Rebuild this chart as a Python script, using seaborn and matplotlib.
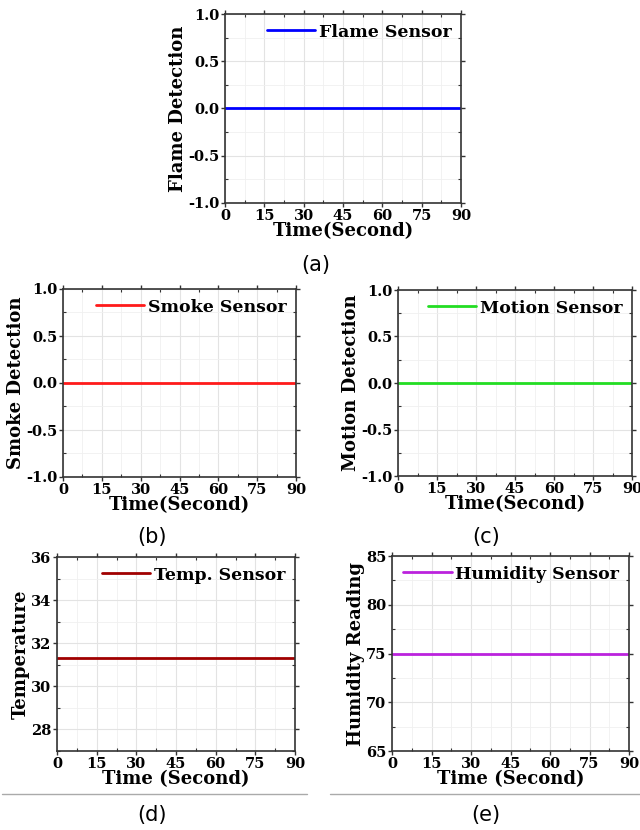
import numpy as np
import pandas as pd
import seaborn as sns
import matplotlib.pyplot as plt
from matplotlib.ticker import MultipleLocator
from matplotlib.lines import Line2D

sns.set_theme(style="white")
plt.rcParams['font.family'] = ['DejaVu Serif']
plt.rcParams['text.color'] = 'black'
plt.rcParams['axes.labelcolor'] = 'black'
plt.rcParams['xtick.color'] = 'black'
plt.rcParams['ytick.color'] = 'black'

time = [0, 90]
flame = [0.0, 0.0]
smoke = [0.0, 0.0]
motion = [0.0, 0.0]
temperature = [31.3, 31.3]
humidity = [75.0, 75.0]

W, H = 640, 830
fig = plt.figure(figsize=(6.4, 8.3), dpi=100)

def rect(l, r, t, b):
    return [l / W, 1 - b / H, (r - l) / W, (b - t) / H]

panels = [
    dict(r=rect(225, 461, 14, 203), y=flame, color='#0000ff', label='Flame Sensor',
         ylabel='Flame Detection', xlabel='Time(Second)', ylim=(-1, 1), ymaj=0.5, ymin=0.25,
         cap='(a)', capxy=(316, 265), fmt='%.1f'),
    dict(r=rect(63, 296, 289, 477), y=smoke, color='#ff1a1a', label='Smoke Sensor',
         ylabel='Smoke Detection', xlabel='Time(Second)', ylim=(-1, 1), ymaj=0.5, ymin=0.25,
         cap='(b)', capxy=(152, 537), fmt='%.1f'),
    dict(r=rect(398, 632, 290, 476), y=motion, color='#22dd22', label='Motion Sensor',
         ylabel='Motion Detection', xlabel='Time(Second)', ylim=(-1, 1), ymaj=0.5, ymin=0.25,
         cap='(c)', capxy=(486, 537), fmt='%.1f'),
    dict(r=rect(57, 295, 557, 751), y=temperature, color='#a00000', label='Temp. Sensor',
         ylabel='Temperature', xlabel='Time (Second)', ylim=(27, 36), ymaj=2, ymin=1,
         cap='(d)', capxy=(152, 815), fmt='%d', yticks=[28, 30, 32, 34, 36]),
    dict(r=rect(392, 629, 556, 751), y=humidity, color='#bb22dd', label='Humidity Sensor',
         ylabel='Humidity Reading', xlabel='Time (Second)', ylim=(65, 85), ymaj=5, ymin=2.5,
         cap='(e)', capxy=(486, 815), fmt='%d'),
]

for p in panels:
    ax = fig.add_axes(p['r'])
    df = pd.DataFrame({'Time': time, 'Value': p['y']})
    sns.lineplot(data=df, x='Time', y='Value', ax=ax, color=p['color'], linewidth=2,
                 label=p['label'])
    ax.set_xlim(0, 90)
    ax.set_ylim(*p['ylim'])
    ax.xaxis.set_major_locator(MultipleLocator(15))
    ax.xaxis.set_minor_locator(MultipleLocator(7.5))
    if 'yticks' in p:
        ax.set_yticks(p['yticks'])
    else:
        ax.yaxis.set_major_locator(MultipleLocator(p['ymaj']))
    ax.yaxis.set_minor_locator(MultipleLocator(p['ymin']))
    ax.yaxis.set_major_formatter(plt.FormatStrFormatter(p['fmt']))
    ax.grid(True, which='major', color='#e3e3e3', linewidth=0.8)
    ax.grid(True, which='minor', color='#f0f0f0', linewidth=0.6)
    for s in ax.spines.values():
        s.set_color('#333333')
        s.set_linewidth(1.2)
    ax.tick_params(axis='both', which='major', direction='out', length=3, width=1,
                   labelsize=10.5, pad=1, color='#333333', labelcolor='black',
                   top=True, right=True, bottom=True, left=True)
    ax.tick_params(axis='both', which='minor', direction='in', length=2, width=0.8,
                   color='#333333', top=True, right=True, bottom=True, left=True)
    for lab in ax.get_xticklabels() + ax.get_yticklabels():
        lab.set_fontweight('bold')
    ax.set_xlabel(p['xlabel'], fontsize=13, fontweight='bold', labelpad=0, color='black')
    ax.set_ylabel(p['ylabel'], fontsize=13, fontweight='bold', labelpad=1, color='black')
    leg = ax.legend(loc='upper right', frameon=False, handlelength=2.8, handletextpad=0.2,
                    borderaxespad=0.15, prop={'weight': 'bold', 'size': 12.5})
    for t in leg.get_texts():
        t.set_color('black')
    fig.text(p['capxy'][0] / W, 1 - p['capxy'][1] / H, p['cap'], ha='center', va='center',
             fontsize=15, family='DejaVu Sans', color='black')

fig.add_artist(Line2D([2 / W, 307 / W], [1 - 794 / H, 1 - 794 / H], color='#aaaaaa', linewidth=1))
fig.add_artist(Line2D([330 / W, 640 / W], [1 - 794 / H, 1 - 794 / H], color='#aaaaaa', linewidth=1))

fig.savefig('out.png', dpi=100)
